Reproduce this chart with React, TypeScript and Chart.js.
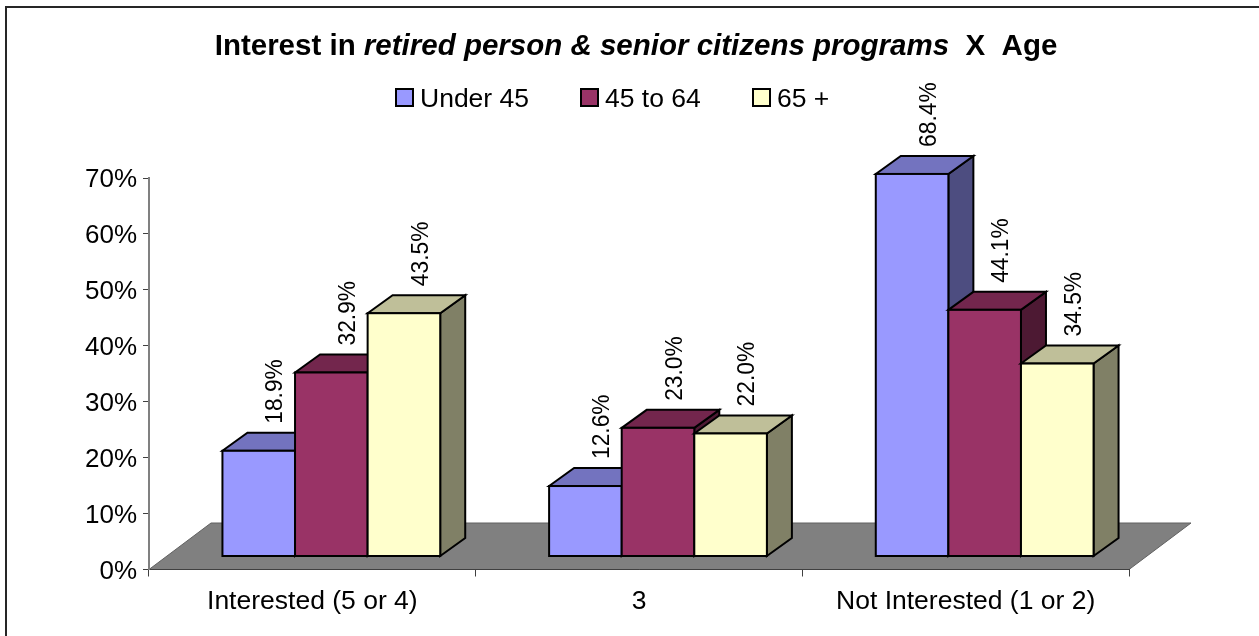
import React, { useEffect, useRef } from "react";
import { Chart, registerables } from "chart.js";

Chart.register(...registerables);

const categories = ["Interested (5 or 4)", "3", "Not Interested (1 or 2)"];
const under45 = [18.9, 12.6, 68.4];
const age45to64 = [32.9, 23.0, 44.1];
const age65plus = [43.5, 22.0, 34.5];
const seriesNames = ["Under 45", "45 to 64", "65 +"];
const frontColors = ["#9999FF", "#993366", "#FFFFCC"];
const topColors = ["#7373BF", "#73264D", "#BFBF99"];
const sideColors = ["#4D4D80", "#4D1933", "#808066"];
const titleParts = [
  { text: "Interest in ", italic: false },
  { text: "retired person & senior citizens programs", italic: true },
  { text: "  X  Age", italic: false },
];
const legendBoxX = [395, 580, 752];

const FONT = '"Liberation Sans", Arial, sans-serif';
const W = 1259;
const H = 636;
const SHIFT_X = 19;
const SHIFT_Y = -13;
const DX = 25;
const DY = 18;
const FLOOR_DX = 62;
const FLOOR_DY = 46.5;

function poly(ctx: CanvasRenderingContext2D, pts: number[][], fill: string, stroke: string, lw: number) {
  ctx.beginPath();
  pts.forEach((p, i) => (i ? ctx.lineTo(p[0], p[1]) : ctx.moveTo(p[0], p[1])));
  ctx.closePath();
  ctx.fillStyle = fill;
  ctx.fill();
  ctx.lineWidth = lw;
  ctx.strokeStyle = stroke;
  ctx.lineJoin = "miter";
  ctx.stroke();
}

const scene3d = {
  id: "scene3d",
  beforeDraw(chart: any) {
    const { ctx, chartArea: a } = chart;
    ctx.save();
    ctx.fillStyle = "#FFFFFF";
    ctx.fillRect(0, 0, W, H);

    // frame: only the top and left edges fall inside the picture
    ctx.strokeStyle = "#262626";
    ctx.lineWidth = 2;
    ctx.beginPath();
    ctx.moveTo(6, H);
    ctx.lineTo(6, 7);
    ctx.lineTo(W, 7);
    ctx.stroke();

    ctx.fillStyle = "#000000";
    ctx.textBaseline = "alphabetic";
    ctx.textAlign = "left";
    const titleFont = (italic: boolean) => `${italic ? "italic " : ""}bold 29.5px ${FONT}`;
    let total = 0;
    titleParts.forEach((p) => {
      ctx.font = titleFont(p.italic);
      total += ctx.measureText(p.text).width;
    });
    let x = 636 - total / 2;
    titleParts.forEach((p) => {
      ctx.font = titleFont(p.italic);
      ctx.fillText(p.text, x, 55);
      x += ctx.measureText(p.text).width;
    });

    ctx.font = `26.5px ${FONT}`;
    chart.data.datasets.forEach((d: any, i: number) => {
      const bx = legendBoxX[i];
      ctx.fillStyle = d.backgroundColor;
      ctx.strokeStyle = "#000000";
      ctx.lineWidth = 2;
      ctx.fillRect(bx + 1, 89, 17, 17);
      ctx.strokeRect(bx + 1, 89, 17, 17);
      ctx.fillStyle = "#000000";
      ctx.fillText(d.label, bx + 25, 107);
    });

    poly(
      ctx,
      [
        [a.left, a.bottom],
        [a.left + FLOOR_DX, a.bottom - FLOOR_DY],
        [a.right + FLOOR_DX, a.bottom - FLOOR_DY],
        [a.right, a.bottom],
      ],
      "#808080",
      "#606060",
      1
    );
    ctx.restore();
  },
  // Series are painted left to right so each bar's front covers its neighbour's side.
  beforeDatasetsDraw(chart: any) {
    const { ctx } = chart;
    chart.data.datasets.forEach((_: any, i: number) => {
      const meta = chart.getDatasetMeta(i);
      ctx.save();
      ctx.translate(SHIFT_X, SHIFT_Y);
      meta.data.forEach((bar: any) => {
        const l = bar.x - bar.width / 2;
        const r = bar.x + bar.width / 2;
        const t = bar.y;
        const b = bar.base;
        poly(ctx, [[r, b], [r + DX, b - DY], [r + DX, t - DY], [r, t]], sideColors[i], "#000000", 2);
        poly(ctx, [[l, t], [l + DX, t - DY], [r + DX, t - DY], [r, t]], topColors[i], "#000000", 2);
      });
      meta.controller.draw();
      ctx.strokeStyle = "#000000";
      ctx.lineWidth = 2;
      meta.data.forEach((bar: any) => {
        ctx.strokeRect(bar.x - bar.width / 2, bar.y, bar.width, bar.base - bar.y);
      });
      ctx.restore();
    });

    ctx.save();
    ctx.font = `24.5px ${FONT}`;
    ctx.fillStyle = "#000000";
    ctx.textAlign = "left";
    ctx.textBaseline = "middle";
    chart.data.datasets.forEach((d: any, i: number) => {
      chart.getDatasetMeta(i).data.forEach((bar: any, j: number) => {
        ctx.save();
        ctx.translate(bar.x + SHIFT_X + 17, bar.y + SHIFT_Y - DY - 9);
        ctx.rotate(-Math.PI / 2);
        ctx.scale(0.93, 1);
        ctx.fillText(`${d.data[j].toFixed(1)}%`, 0, 0);
        ctx.restore();
      });
    });
    ctx.restore();
    return false;
  },
};

export default function App() {
  const ref = useRef<HTMLCanvasElement>(null);
  useEffect(() => {
    document.body.style.margin = "0";
    const series = [under45, age45to64, age65plus];
    const chart = new Chart(ref.current!, {
      type: "bar",
      data: {
        labels: categories,
        datasets: series.map((data, i) => ({
          label: seriesNames[i],
          data,
          backgroundColor: frontColors[i],
          borderWidth: 0,
          categoryPercentage: 2 / 3,
          barPercentage: 1,
        })),
      },
      options: {
        responsive: false,
        animation: false,
        devicePixelRatio: 1,
        layout: { padding: { left: 0, right: 130, top: 178, bottom: 0 } },
        plugins: { legend: { display: false }, title: { display: false }, tooltip: { enabled: false } },
        scales: {
          x: {
            afterFit(s: any) { s.height = 66.5; },
            grid: { drawOnChartArea: false, drawTicks: true, tickLength: 7, color: "#404040" },
            border: { color: "#404040", width: 1 },
            ticks: { color: "#000000", font: { family: FONT, size: 26.5 }, padding: 9, maxRotation: 0, autoSkip: false },
          },
          y: {
            min: 0,
            max: 70,
            afterFit(s: any) { s.width = 149; },
            grid: { drawOnChartArea: false, drawTicks: true, tickLength: 6, color: "#404040" },
            border: { color: "#808080", width: 2 },
            ticks: { stepSize: 10, color: "#000000", font: { family: FONT, size: 26 }, padding: 6, labelOffset: 2, callback: (v: any) => `${v}%` },
          },
        },
      },
      plugins: [scene3d],
    } as any);
    return () => chart.destroy();
  }, []);
  return <canvas ref={ref} width={W} height={H} style={{ display: "block", width: W, height: H }} />;
}
